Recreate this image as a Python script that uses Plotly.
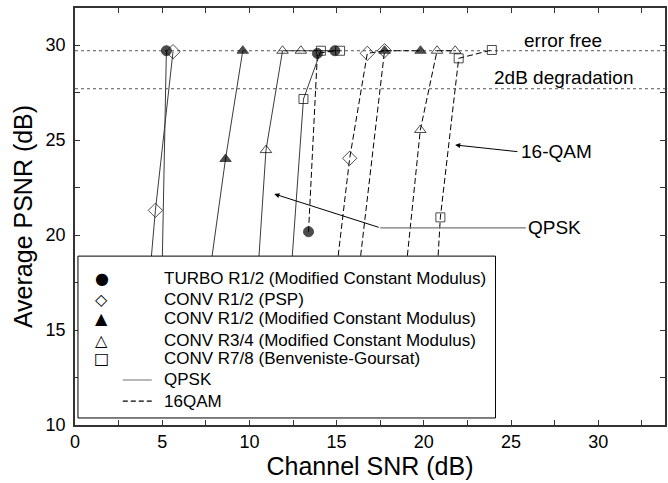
import plotly.graph_objects as go

# ---------------- data ----------------
# QPSK curves (solid)
turbo_qpsk_x = [4.98, 5.24]
turbo_qpsk_y = [17.5, 29.7]
psp_qpsk_x = [4.25, 4.61, 5.62]
psp_qpsk_y = [17.5, 21.3, 29.65]
r12_qpsk_x = [7.65, 8.63, 9.62]
r12_qpsk_y = [17.5, 24.0, 29.7]
r34_qpsk_x = [10.45, 10.95, 11.9, 12.95, 14.1]
r34_qpsk_y = [17.5, 24.47, 29.7, 29.7, 29.7]
r78_qpsk_x = [12.35, 13.1, 14.1, 15.2]
r78_qpsk_y = [17.5, 27.16, 29.7, 29.7]

# 16QAM curves (dashed)
turbo_16_x = [13.39, 13.9, 14.9]
turbo_16_y = [20.17, 29.56, 29.7]
psp_16_x = [14.91, 15.75, 16.76, 17.75]
psp_16_y = [17.5, 24.04, 29.56, 29.7]
r12_16_x = [16.2, 17.75, 19.81]
r12_16_y = [17.5, 29.7, 29.7]
r34_16_x = [18.9, 19.8, 20.76, 21.8]
r34_16_y = [17.5, 25.53, 29.7, 29.7]
r78_16_x = [20.73, 20.95, 22.0, 23.9]
r78_16_y = [17.5, 20.93, 29.3, 29.74]

error_free = 29.7
degradation_2db = 27.7

legend_labels = [
    "TURBO R1/2 (Modified Constant Modulus)",
    "CONV R1/2 (PSP)",
    "CONV R1/2 (Modified Constant Modulus)",
    "CONV R3/4 (Modified Constant Modulus)",
    "CONV R7/8 (Benveniste-Goursat)",
    "QPSK",
    "16QAM",
]
legend_glyphs = ["\u25CF", "\u25C7", "\u25B2", "\u25B3", "\u25A1"]

x_ticks = [0, 5, 10, 15, 20, 25, 30]
y_ticks = [10, 15, 20, 25, 30]

# ---------------- styling ----------------
FONT = "Liberation Sans, Arial, Helvetica, sans-serif"
X_RANGE = [0, 33.83]
Y_RANGE = [10, 31.95]

styles = {
    "turbo": dict(symbol="circle", color="black", size=10),
    "psp": dict(symbol="diamond-open", color="black", size=11),
    "r12": dict(symbol="triangle-up", color="black", size=10),
    "r34": dict(symbol="triangle-up-open", color="black", size=10),
    "r78": dict(symbol="square-open", color="black", size=9),
}

series = [
    ("turbo", turbo_qpsk_x, turbo_qpsk_y, "solid", 0),
    ("psp", psp_qpsk_x, psp_qpsk_y, "solid", 0),
    ("r12", r12_qpsk_x, r12_qpsk_y, "solid", 0),
    ("r34", r34_qpsk_x, r34_qpsk_y, "solid", 1),
    ("r78", r78_qpsk_x, r78_qpsk_y, "solid", 0),
    ("turbo", turbo_16_x, turbo_16_y, "6px,3px", 0),
    ("psp", psp_16_x, psp_16_y, "6px,3px", 0),
    ("r12", r12_16_x, r12_16_y, "6px,3px", 0),
    ("r34", r34_16_x, r34_16_y, "6px,3px", 0),
    ("r78", r78_16_x, r78_16_y, "6px,3px", 0),
]

fig = go.Figure()
for key, xs, ys, dash, tail in series:
    st = styles[key]
    sizes = [st["size"]] * (len(xs) - tail) + [0] * tail
    lc = "#3a3a3a" if dash == "solid" else "black"
    fig.add_trace(go.Scatter(
        x=xs, y=ys, mode="lines+markers", showlegend=False,
        line=dict(color=lc, width=1, dash=dash),
        marker=dict(symbol=st["symbol"], size=sizes, color="black",
                    line=dict(color="black", width=1)),
        hoverinfo="skip",
    ))

shapes = []
for yv in (error_free, degradation_2db):
    shapes.append(dict(type="line", xref="paper", yref="y", x0=0, x1=1, y0=yv, y1=yv,
                       line=dict(color="#555", width=1, dash="dot"), layer="below"))

# QPSK pointer horizontal part
shapes.append(dict(type="line", xref="x", yref="y", x0=17.5, x1=25.85, y0=20.38, y1=20.38,
                   line=dict(color="#777", width=1.2), layer="above"))

# legend box
lx0, lx1, ly0, ly1 = 0.17, 24.11, 10.37, 18.89
shapes.append(dict(type="rect", xref="x", yref="y", x0=lx0, x1=lx1, y0=ly0, y1=ly1,
                   fillcolor="white", line=dict(color="black", width=1), layer="above"))
row_y = [17.72, 16.62, 15.62, 14.47, 13.51, 12.37, 11.26]
shapes.append(dict(type="line", xref="x", yref="y", x0=2.74, x1=4.4, y0=row_y[5], y1=row_y[5],
                   line=dict(color="#888", width=1.2), layer="above"))
shapes.append(dict(type="line", xref="x", yref="y", x0=2.74, x1=4.4, y0=row_y[6], y1=row_y[6],
                   line=dict(color="black", width=1.2, dash="5px,3px"), layer="above"))

annotations = []
for i, lab in enumerate(legend_labels):
    annotations.append(dict(x=5.01, y=row_y[i], xref="x", yref="y", text=lab, showarrow=False,
                            xanchor="left", yanchor="middle",
                            font=dict(family=FONT, size=17, color="black")))
for i, g in enumerate(legend_glyphs):
    annotations.append(dict(x=1.52, y=row_y[i], xref="x", yref="y", text=g, showarrow=False,
                            xanchor="center", yanchor="middle",
                            font=dict(family="DejaVu Sans", size=16, color="black")))

annotations += [
    dict(x=28.0, y=30.26, xref="x", yref="y", text="error free", showarrow=False,
         font=dict(family=FONT, size=19, color="black")),
    dict(x=28.0, y=28.3, xref="x", yref="y", text="2dB degradation", showarrow=False,
         font=dict(family=FONT, size=19, color="black")),
    dict(x=25.85, y=20.38, xref="x", yref="y", text="QPSK", showarrow=False, xanchor="left",
         font=dict(family=FONT, size=19, color="black")),
    dict(x=25.45, y=24.38, xref="x", yref="y", text="16-QAM", showarrow=False, xanchor="left",
         font=dict(family=FONT, size=19, color="black")),
    dict(x=11.43, y=22.16, ax=17.5, ay=20.38, xref="x", yref="y", axref="x", ayref="y",
         text="", showarrow=True, arrowhead=2, arrowsize=1, arrowwidth=1, arrowcolor="black"),
    dict(x=21.8, y=24.74, ax=25.45, ay=24.38, xref="x", yref="y", axref="x", ayref="y",
         text="", showarrow=True, arrowhead=2, arrowsize=1, arrowwidth=1, arrowcolor="black"),
]

axis_common = dict(showgrid=False, zeroline=False, showline=True, linecolor="#333", linewidth=1.5,
                   mirror="ticks", ticks="inside", ticklen=5, tickcolor="#333",
                   tickfont=dict(family=FONT, size=18, color="black"))

fig.update_layout(
    width=668, height=483,
    margin=dict(l=75, r=1, t=8, b=58),
    paper_bgcolor="white", plot_bgcolor="white",
    shapes=shapes, annotations=annotations,
    xaxis=dict(range=X_RANGE, tickvals=x_ticks, **axis_common,
               minor=dict(dtick=2.5, tick0=0, ticks="inside", ticklen=5, tickcolor="#333"),
               title=dict(text="Channel SNR (dB)", font=dict(family=FONT, size=25, color="black"),
                          standoff=4)),
    yaxis=dict(range=Y_RANGE, tickvals=y_ticks, **axis_common, ticklabelstandoff=4,
               minor=dict(dtick=2.5, tick0=0, ticks="inside", ticklen=5, tickcolor="#333"),
               title=dict(text="Average PSNR (dB)", font=dict(family=FONT, size=25, color="black"),
                          standoff=6)),
)

fig.write_html("out.html")
